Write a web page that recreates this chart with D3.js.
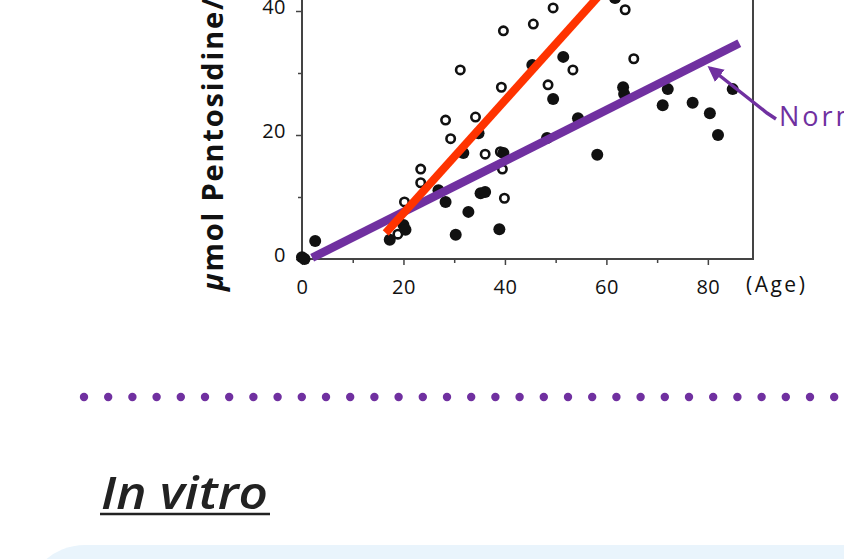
<!DOCTYPE html>
<html>
<head>
<meta charset="utf-8">
<title>Pentosidine vs age</title>
<script src="https://d3js.org/d3.v7.min.js"></script>
<style>
  body { margin: 0; background: #fff; }
  svg { display: block; }
</style>
</head>
<body>
<script>

// open circles (diabetic) : [age, umol pentosidine]
var openPoints = [
  [49.5, 40.5], [63.7, 40.2], [39.7, 36.8], [45.6, 37.9], [31.2, 30.5],
  [39.3, 27.7], [48.5, 28.1], [53.4, 30.5], [65.4, 32.3], [28.3, 22.4],
  [34.2, 22.9], [29.3, 19.4], [36.1, 16.9], [39.1, 17.3], [39.5, 14.5],
  [23.4, 14.5], [23.4, 12.3], [20.2, 9.2], [39.9, 9.8], [18.9, 4.0]
];
// filled circles (normal)
var filledPoints = [
  [0.0, 0.3], [0.5, 0.0], [2.6, 2.9], [17.3, 3.1], [20.0, 5.5],
  [20.4, 4.7], [26.9, 11.1], [28.3, 9.2], [32.8, 7.6], [30.3, 3.9],
  [35.2, 10.6], [36.1, 10.8], [38.9, 4.8], [31.8, 17.1], [34.8, 20.3],
  [39.7, 17.1], [48.3, 19.5], [45.4, 31.3], [51.5, 32.6], [49.5, 25.8],
  [54.4, 22.7], [58.2, 16.8], [63.3, 27.7], [63.5, 26.6], [72.1, 27.4],
  [71.1, 24.8], [77.0, 25.2], [80.4, 23.5], [82.0, 20.0], [84.9, 27.4],
  [61.7, 42.1]
];
// trend lines
var diabeticLine = [[16.5, 4.2], [62, 45.6]];
var normalLine = [[2.0, 0.2], [86.2, 34.8]];

var xTicks = [0, 20, 40, 60, 80];
var xMinor = [10, 30, 50, 70];
var yTicks = [0, 20, 40];
var yMinor = [10, 30];

var W = 844, H = 559;
var purple = "#7030a0";

var svg = d3.select("body").append("svg")
    .attr("width", W)
    .attr("height", H);

var x = d3.scaleLinear().domain([0, 88.9]).range([302, 753]);
var y = d3.scaleLinear().domain([0, 45]).range([259, 259 - 45 * 6.2]);

// frame
var frame = svg.append("g").attr("stroke", "#444").attr("stroke-width", 2).attr("fill", "none");
frame.append("line").attr("x1", x(0)).attr("x2", x(0)).attr("y1", y(45)).attr("y2", y(0));
frame.append("line").attr("x1", x(88.9)).attr("x2", x(88.9)).attr("y1", y(45)).attr("y2", y(0));
frame.append("line").attr("x1", x(0) - 1).attr("x2", x(88.9) + 1).attr("y1", y(0)).attr("y2", y(0));

// axes
svg.append("g")
    .attr("transform", "translate(0," + y(0) + ")")
    .call(d3.axisBottom(x).tickValues(xTicks).tickSize(6).tickPadding(15));
svg.append("g")
    .attr("transform", "translate(0," + y(0) + ")")
    .call(d3.axisBottom(x).tickValues(xMinor).tickSize(4).tickFormat(""));
var yAxis = svg.append("g")
    .attr("transform", "translate(" + x(0) + ",0)")
    .call(d3.axisLeft(y).tickValues(yTicks).tickSize(6).tickPadding(10));
svg.append("g")
    .attr("transform", "translate(" + x(0) + ",0)")
    .call(d3.axisLeft(y).tickValues(yMinor).tickSize(4).tickFormat(""));

svg.selectAll(".domain").remove();
svg.selectAll(".tick line").attr("stroke", "#444").attr("stroke-width", 1.5);
svg.selectAll(".tick text")
    .attr("font-family", "Open Sans, sans-serif")
    .attr("font-size", 20)
    .attr("letter-spacing", 0.5)
    .attr("fill", "#111");
yAxis.selectAll(".tick text").attr("dy", "0.12em");

svg.append("text")
    .attr("x", 746).attr("y", 292)
    .attr("font-family", "Open Sans, sans-serif")
    .attr("font-size", 21)
    .attr("letter-spacing", 2.5)
    .attr("fill", "#111")
    .text("(Age)");

// y title
var yt = svg.append("text")
    .attr("transform", "translate(223,291) rotate(-90)")
    .attr("font-family", "Open Sans, sans-serif")
    .attr("font-size", 29)
    .attr("letter-spacing", 1.8)
    .attr("font-weight", "bold")
    .attr("fill", "#111");
yt.append("tspan").attr("font-style", "italic").text("\u03bc");
yt.append("tspan").text("mol Pentosidine/mg collagen");

// points
svg.append("g").selectAll("circle")
    .data(openPoints)
    .enter().append("circle")
    .attr("cx", function(d) { return x(d[0]); })
    .attr("cy", function(d) { return y(d[1]); })
    .attr("r", 4.2)
    .attr("fill", "#fff")
    .attr("stroke", "#111")
    .attr("stroke-width", 2.6);

svg.append("g").selectAll("circle")
    .data(filledPoints)
    .enter().append("circle")
    .attr("cx", function(d) { return x(d[0]); })
    .attr("cy", function(d) { return y(d[1]); })
    .attr("r", 6)
    .attr("fill", "#111");

// trend lines
var line = d3.line().x(function(d) { return x(d[0]); }).y(function(d) { return y(d[1]); });
svg.append("path").datum(normalLine)
    .attr("d", line).attr("stroke", purple).attr("stroke-width", 8.5).attr("fill", "none");
svg.append("path").datum(diabeticLine)
    .attr("d", line).attr("stroke", "#ff3300").attr("stroke-width", 8).attr("fill", "none");

// arrow to the normal line
svg.append("defs").append("marker")
    .attr("id", "head")
    .attr("viewBox", "0 0 10 10")
    .attr("refX", 8).attr("refY", 5)
    .attr("markerWidth", 4.5).attr("markerHeight", 4.5)
    .attr("orient", "auto")
    .append("path").attr("d", "M0,0L10,5L0,10z").attr("fill", purple);
svg.append("path")
    .attr("d", "M776,119 L767,113 L710,68")
    .attr("stroke", purple).attr("stroke-width", 3.5).attr("fill", "none")
    .attr("marker-end", "url(#head)");
svg.append("text")
    .attr("x", 779).attr("y", 126)
    .attr("font-family", "Open Sans, sans-serif")
    .attr("font-size", 27)
    .attr("letter-spacing", 3)
    .attr("fill", purple)
    .text("Normal");

// dotted separator
svg.append("g").selectAll("circle")
    .data(d3.range(84, W + 10, 24.2))
    .enter().append("circle")
    .attr("cx", function(d) { return d; })
    .attr("cy", 397)
    .attr("r", 4.2)
    .attr("fill", purple);

// section heading
svg.append("text")
    .attr("x", 101).attr("y", 509)
    .attr("font-family", "Open Sans, sans-serif")
    .attr("font-size", 46)
    .attr("font-style", "italic")
    .attr("font-weight", 600)
    .attr("textLength", 167)
    .attr("lengthAdjust", "spacingAndGlyphs")
    .attr("fill", "#222")
    .text("In vitro");
svg.append("line")
    .attr("x1", 100).attr("x2", 270).attr("y1", 514).attr("y2", 514)
    .attr("stroke", "#222").attr("stroke-width", 2.5);

// light box at bottom
svg.append("rect")
    .attr("x", 25).attr("y", 545)
    .attr("width", 900).attr("height", 200)
    .attr("rx", 60)
    .attr("fill", "#e9f4fc");

</script>
</body>
</html>
